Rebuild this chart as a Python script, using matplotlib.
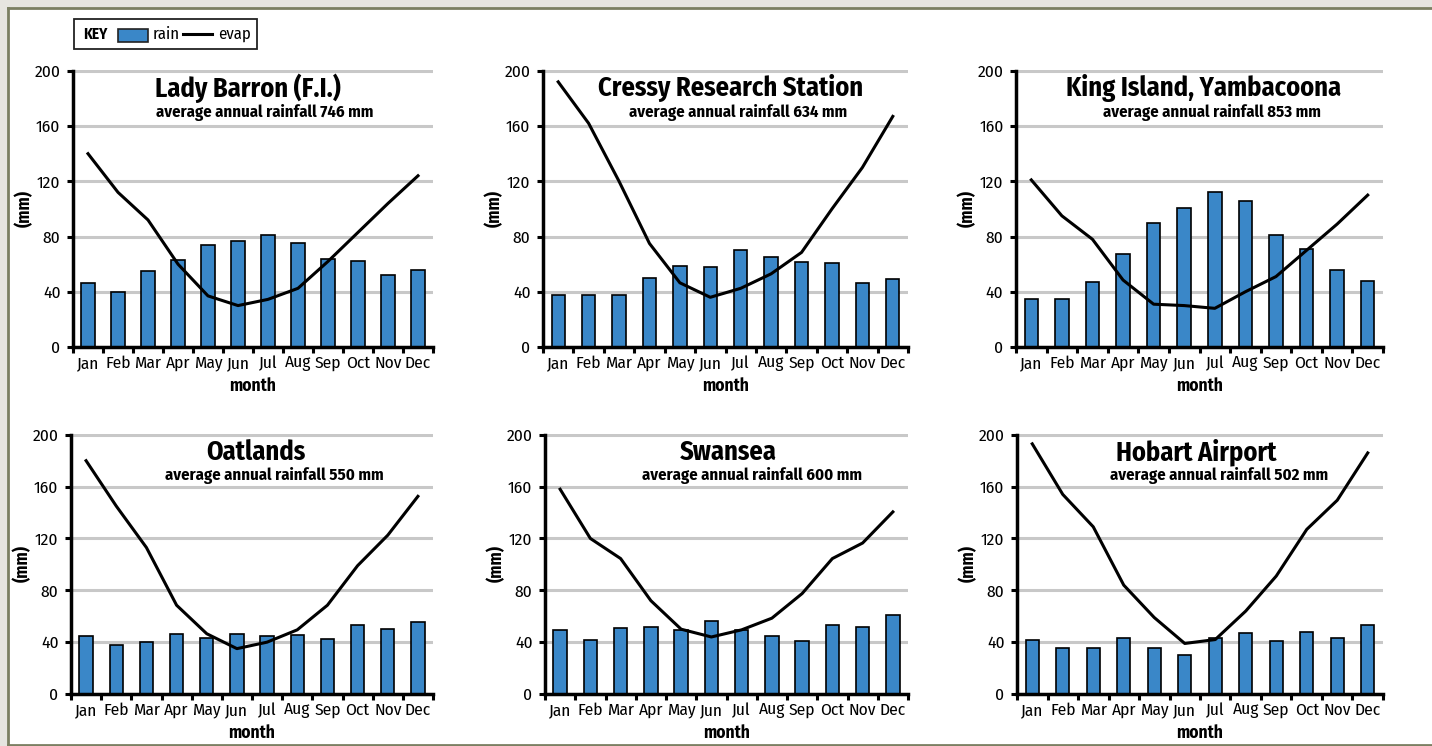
import matplotlib
matplotlib.use("Agg")
import matplotlib.pyplot as plt
from matplotlib import font_manager
from matplotlib.patches import Rectangle
from matplotlib.lines import Line2D
import numpy as np

# pick a narrow font (with a bold weight) if one is installed
ttf = font_manager.fontManager.ttflist
wanted = ['Fira Sans Condensed', 'Barlow Semi Condensed', 'Encode Sans Condensed',
          'Asap Condensed', 'Archivo Narrow', 'Liberation Sans Narrow']
bold_ok = {f.name for f in ttf if f.weight in ('bold', 700)}
FONT = next((n for n in wanted if n in bold_ok), 'DejaVu Sans')
plt.rcParams['font.family'] = [FONT, 'DejaVu Sans']

months = ['Jan', 'Feb', 'Mar', 'Apr', 'May', 'Jun', 'Jul', 'Aug', 'Sep', 'Oct', 'Nov', 'Dec']

stations = ['Lady Barron (F.I.)', 'Cressy Research Station', 'King Island, Yambacoona',
            'Oatlands', 'Swansea', 'Hobart Airport']
annual_rain = [746, 634, 853, 550, 600, 502]

rain_lady = [46, 40, 55, 63, 74, 77, 81, 75, 63.5, 62.5, 52, 56]
evap_lady = [140, 112, 92, 60, 37, 30, 34.5, 42.5, 62, 83, 104, 124]

rain_cressy = [38, 37.5, 38, 50, 59, 58, 70, 65.5, 61.5, 60.5, 46, 49]
evap_cressy = [192, 162, 120, 75, 46.5, 36, 42.5, 53, 68.5, 100, 130, 167]

rain_king = [35, 35, 47, 67.5, 89.5, 101, 112.5, 106, 81, 71, 56, 48]
evap_king = [121, 95, 78, 48.5, 31, 30, 28, 40, 51, 70, 89, 110]

rain_oat = [44.5, 37.5, 40, 46.5, 43.5, 46.5, 44.5, 45.5, 42.5, 53, 50, 55.5]
evap_oat = [180, 145, 113, 68.5, 46.5, 35, 40, 49.5, 68.5, 99, 122.5, 152.5]

rain_swan = [49, 42, 51, 52, 49, 56.5, 49, 44.5, 41, 53, 52, 61]
evap_swan = [158, 120, 104.5, 72, 50, 44, 49.5, 58.5, 77.5, 104.5, 116.5, 140.5]

rain_hob = [42, 35.5, 35.5, 43.5, 35.5, 30, 43.5, 47, 41, 48, 43.5, 53.5]
evap_hob = [193, 154, 129, 84, 59, 39, 42, 64, 91, 127, 149.5, 186]

rain_all = [rain_lady, rain_cressy, rain_king, rain_oat, rain_swan, rain_hob]
evap_all = [evap_lady, evap_cressy, evap_king, evap_oat, evap_swan, evap_hob]

BLUE = '#3a87c8'
W, H = 1432, 746

# axes boxes in pixels: left, top, right, bottom (from image top)
boxes = [(73, 70, 433, 347), (543, 70, 908, 347), (1016, 70, 1383, 347),
         (71, 434, 433, 694), (545, 434, 908, 694), (1017, 434, 1383, 694)]
title_x = [0.486, 0.515, 0.512, 0.511, 0.504, 0.489]
sub_x = [0.533, 0.534, 0.534, 0.561, 0.570, 0.552]

fig = plt.figure(figsize=(W / 100, H / 100), dpi=100)
fig.patch.set_facecolor('#e6e5e0')

# white panel with olive border (left, top, bottom)
fig.patches.append(Rectangle((8 / W, 1.5 / H), 1, 1 - 9 / H, transform=fig.transFigure,
                             facecolor='white', edgecolor='none', zorder=-10))
olive = '#7b7f62'
for xs, ys in [([8 / W, 1], [1 - 7.7 / H] * 2), ([8 / W, 1], [1.5 / H] * 2),
               ([8 / W] * 2, [1.5 / H, 1 - 7.7 / H])]:
    fig.lines.append(Line2D(xs, ys, transform=fig.transFigure, color=olive, lw=2, zorder=-9))

x = np.arange(12)
for i, (l, t, r, b) in enumerate(boxes):
    ax = fig.add_axes([l / W, 1 - b / H, (r - l) / W, (b - t) / H])
    ax.set_facecolor('none')
    ax.set_axisbelow(True)
    ax.grid(axis='y', color='#c8c8c8', lw=2.2)
    ax.bar(x, rain_all[i], width=0.44, color=BLUE, edgecolor='black', lw=1.2, zorder=2)
    ax.plot(x, evap_all[i], color='black', lw=2.2, zorder=3)
    ax.set_xlim(-0.5, 11.5)
    ax.set_ylim(0, 200.6)
    ax.set_yticks(range(0, 201, 40))
    ax.set_xticks(x)
    ax.set_xticklabels(months)
    ax.set_xticks(np.arange(-0.5, 12, 1), minor=True)
    ax.tick_params(axis='x', which='major', length=0, labelsize=12.5, pad=6)
    ax.tick_params(axis='x', which='minor', length=4, width=2.2, direction='out')
    ax.tick_params(axis='y', length=4, width=2.2, labelsize=12.5, pad=5)
    for s in ['top', 'right']:
        ax.spines[s].set_visible(False)
    for s in ['left', 'bottom']:
        ax.spines[s].set_linewidth(2.5)
    ax.spines['left'].set_bounds(0, 200)
    ax.set_ylabel('(mm)', fontweight='bold', fontsize=12.5, labelpad=1)
    ax.set_xlabel('month', fontweight='bold', fontsize=12.5, labelpad=4)
    ty = 0.935 if i < 3 else 0.931
    sy = 0.845 if i < 3 else 0.842
    ax.text(title_x[i], ty, stations[i], transform=ax.transAxes, ha='center', va='center',
            fontsize=19, fontweight='bold', zorder=5)
    ax.text(sub_x[i], sy, 'average annual rainfall %d mm' % annual_rain[i], transform=ax.transAxes,
            ha='center', va='center', fontsize=12, fontweight='bold', zorder=5)

# key box
fig.patches.append(Rectangle((74 / W, 1 - 49 / H), 183 / W, 30 / H, transform=fig.transFigure,
                             facecolor='white', edgecolor='#222222', lw=1.3, zorder=3))
fig.text(95 / W, 1 - 34 / H, 'KEY', ha='center', va='center', fontsize=11, fontweight='bold', zorder=4)
fig.patches.append(Rectangle((118 / W, 1 - 42 / H), 30 / W, 13 / H, transform=fig.transFigure,
                             facecolor=BLUE, edgecolor='#222222', lw=1.2, zorder=4))
fig.text(153 / W, 1 - 34 / H, 'rain', ha='left', va='center', fontsize=12, zorder=4)
fig.lines.append(Line2D([183 / W, 212 / W], [1 - 34 / H] * 2, transform=fig.transFigure,
                        color='black', lw=2.2, zorder=4))
fig.text(218 / W, 1 - 34 / H, 'evap', ha='left', va='center', fontsize=12, zorder=4)

fig.savefig('out.png', dpi=100, facecolor=fig.get_facecolor())
